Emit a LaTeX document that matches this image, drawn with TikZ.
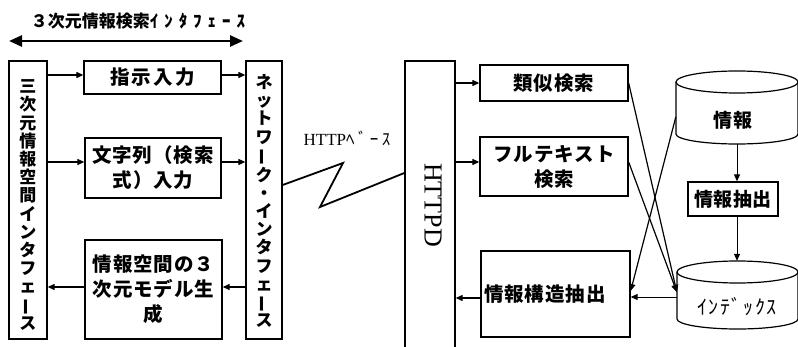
\documentclass[tikz,border=0pt]{standalone}
\usepackage{fontspec}
\usepackage{graphicx}
\setmainfont{Liberation Serif}
\newfontfamily\jp{Noto Sans CJK JP}
\usetikzlibrary{arrows.meta}
\newcommand\vlong{\rotatebox[origin=c]{90}{ー}}
\tikzset{
  boxline/.style={draw, line width=1.3pt, inner sep=0pt},
  jbox/.style={boxline, align=center,
    font=\jp\bfseries\fontsize{19.5}{25}\selectfont\addfontfeature{LetterSpace=5}},
  vtext/.style={inner sep=0pt, align=center,
    font=\jp\bfseries\fontsize{17}{18.2}\selectfont},
  arr/.style={line width=1.2pt, -{Triangle[length=7pt,width=6pt]}},
  thinarr/.style={line width=0.9pt, -{Triangle[length=7pt,width=6pt]}},
  cyl/.style={line width=1.2pt},
}
\begin{document}
\begin{tikzpicture}[x=1pt,y=-1pt]
\useasboundingbox (0,0) rectangle (798,347);
% title and double arrow
\node[inner sep=0pt, font=\jp\bfseries\fontsize{17}{17}\selectfont] (title) at (138,21)
  {３次元情報検索{\addfontfeature{LetterSpace=35}ｲﾝﾀﾌｪｰｽ}};
\coordinate (dl) at (9,41);
\coordinate (dr) at (243,41);
\draw[line width=2.6pt, {Triangle[length=13pt,width=11pt]}-{Triangle[length=13pt,width=11pt]}] (dl) -- (dr);

% left vertical box
\node[boxline, minimum width=38pt, minimum height=278pt] (lbox) at (28,200) {};
\node[vtext] (ltext) at (28,205) {三\\次\\元\\情\\報\\空\\間\\イ\\ン\\タ\\フ\\ェ\\{\vlong}\\ス};

% left column boxes
\node[jbox, minimum width=137pt, minimum height=33pt] (shiji) at (152.5,77.5)
  {\addfontfeature{LetterSpace=11}指示入力};
\node[jbox, minimum width=136pt, minimum height=60pt] (moji) at (153,168)
  {文字列（検索\\式）入力};
\node[jbox, minimum width=137pt, minimum height=99pt] (model) at (153.5,289.5)
  {情報空間の３\\次元モデル生\\成};

% network interface box
\node[boxline, minimum width=36pt, minimum height=278pt] (net) at (264,200) {};
\node[vtext] (nettext) at (264,201) {ネ\\ッ\\ト\\ワ\\{\vlong}\\ク\\・\\イ\\ン\\タ\\フ\\ェ\\{\vlong}\\ス};

% arrows left part
\coordinate (ya) at (0,75);
\coordinate (yb) at (0,162);
\coordinate (yc) at (0,287);
\draw[arr] (lbox.east |- ya) -- (shiji.west |- ya);
\draw[arr] (shiji.east |- ya) -- (net.west |- ya);
\draw[arr] (lbox.east |- yb) -- (moji.west |- yb);
\draw[arr] (moji.east |- yb) -- (net.west |- yb);
\draw[arr] (net.west |- yc) -- (model.east |- yc);
\draw[arr] (model.west |- yc) -- (lbox.east |- yc);

% HTTP base label and zigzag
\node[inner sep=0pt] (httpbase) at (347,138)
  {\fontsize{17}{17}\selectfont HTTP{\jp\addfontfeature{LetterSpace=20}ﾍﾞｰｽ}};
\node[boxline, minimum width=50pt, minimum height=300pt] (httpd) at (430,211) {};
\node[rotate=-90, inner sep=0pt, font=\fontsize{26}{26}\selectfont] (httpdtext) at (433,205) {HTTPD};
\coordinate (zs) at (0,185);
\coordinate (z1) at (343,163);
\coordinate (z2) at (320,207);
\coordinate (ze) at (0,173);
\draw[line width=1.8pt, line join=miter] (net.east |- zs) -- (z1) -- (z2) -- (httpd.west |- ze);

% middle column boxes
\node[jbox, minimum width=148pt, minimum height=36pt] (ruiji) at (554,83) {類似検索};
\node[jbox, minimum width=148pt, minimum height=59pt] (full) at (554,166.5) {フルテキスト\\検索};
\node[jbox, minimum width=149pt, minimum height=86pt, text width=143pt, align=left] (kozo) at (555.5,294) {情報構造抽出};

\coordinate (yr) at (0,83);
\coordinate (yf) at (0,162);
\coordinate (yk) at (0,298);
\draw[arr] (httpd.east |- yr) -- (ruiji.west |- yr);
\draw[arr] (httpd.east |- yf) -- (full.west |- yf);
\draw[arr] (kozo.west |- yk) -- (httpd.east |- yk);

% cylinder: info
\draw[cyl] (676,82) -- (676,134) arc[start angle=180, end angle=360, x radius=61pt, y radius=10pt] -- (798,82);
\draw[cyl] (737,82) ellipse [x radius=61pt, y radius=11pt];
\node[minimum width=122pt, minimum height=62pt, inner sep=0pt] (info) at (737,113) {};
\node[inner sep=0pt, font=\jp\bfseries\fontsize{19}{19}\selectfont\addfontfeature{LetterSpace=3}] (infotext) at (733,120) {情報};

% extraction box
\node[jbox, minimum width=90pt, minimum height=34pt, font=\jp\bfseries\fontsize{19}{25}\selectfont\addfontfeature{LetterSpace=3}] (chushutsu) at (733,199) {情報抽出};

% cylinder: index
\draw[cyl] (677,272) -- (677,319) arc[start angle=180, end angle=360, x radius=60.5pt, y radius=10pt] -- (798,272);
\draw[cyl] (737.5,272) ellipse [x radius=60.5pt, y radius=11pt];
\node[minimum width=121pt, minimum height=69pt, inner sep=0pt] (idx) at (737.5,295.5) {};
\node[inner sep=0pt, font=\jp\fontsize{20}{20}\selectfont\addfontfeature{LetterSpace=8}] (idxtext) at (737,307) {ｲﾝﾃﾞｯｸｽ};

% right side arrows
\coordinate (xv) at (737,0);
\draw[thinarr] (info.south -| xv) -- (chushutsu.north -| xv);
\draw[thinarr] (chushutsu.south -| xv) -- (idx.north -| xv);
\coordinate (yi) at (0,292);
\coordinate (yj) at (0,297);
\coordinate (yq) at (0,291);
\coordinate (yinfo) at (0,117);
\draw[arr] (ruiji.east) -- (idx.west |- yi);
\draw[arr] (full.east |- yf) -- (idx.west |- yi);
\draw[arr] (info.west |- yinfo) -- (kozo.east |- yq);
\draw[thinarr] (idx.west |- yj) -- (kozo.east |- yj);
\end{tikzpicture}
\end{document}
